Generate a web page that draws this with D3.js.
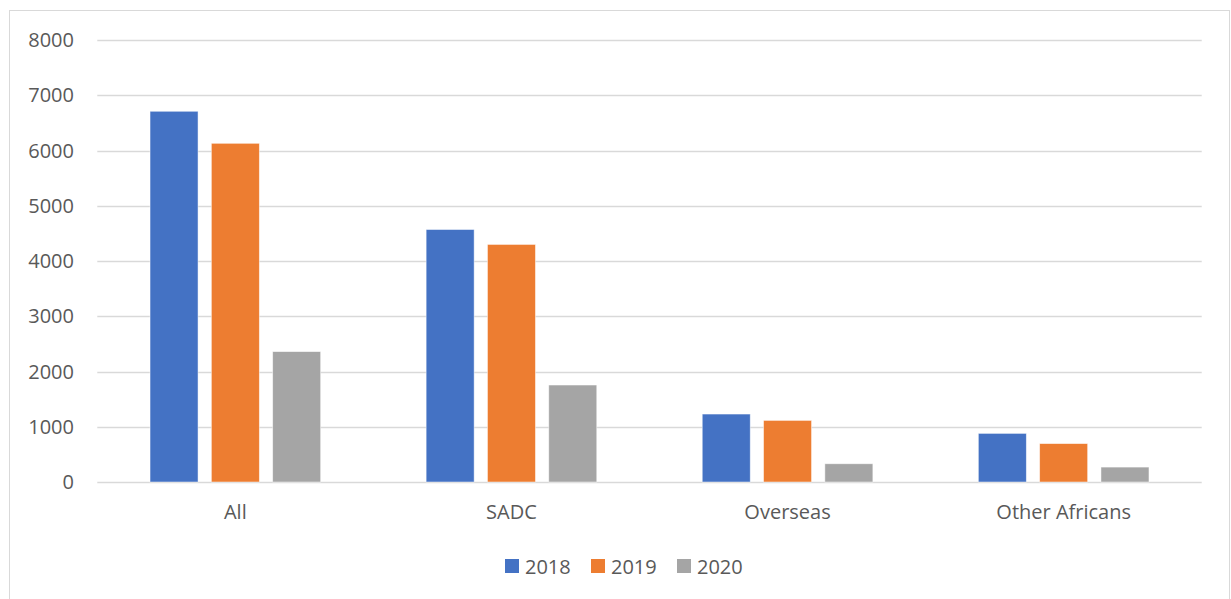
<!DOCTYPE html>
<html>
<head>
<meta charset="utf-8">
<script src="https://cdn.jsdelivr.net/npm/d3@7"></script>
<style>
  html, body { margin: 0; padding: 0; background: #fff; }
  svg { display: block; }
  text { font-family: "Open Sans", "Noto Sans", sans-serif; fill: #595959; }
</style>
</head>
<body>
<svg id="chart" width="1231" height="599"></svg>
<script>
// Groups along the x axis
const categories = ["All", "SADC", "Overseas", "Other Africans"];
// Series (one bar per category per year)
const seriesNames = ["2018", "2019", "2020"];
const values2018 = [6710, 4570, 1230, 880];
const values2019 = [6130, 4300, 1115, 695];
const values2020 = [2360, 1755, 330, 270];
const seriesValues = [values2018, values2019, values2020];
const seriesColors = ["#4472C4", "#ED7D31", "#A5A5A5"];
// Y axis ticks
const yTicks = [0, 1000, 2000, 3000, 4000, 5000, 6000, 7000, 8000];

const svg = d3.select("#chart");

// Chart frame
svg.append("rect")
  .attr("x", 9.5).attr("y", 10.5)
  .attr("width", 1220).attr("height", 600)
  .attr("fill", "#fff").attr("stroke", "#D9D9D9").attr("stroke-width", 1);

const plot = { left: 97.3, right: 1201.7, top: 40, bottom: 482 };

const y = d3.scaleLinear().domain([0, 8000]).range([plot.bottom, plot.top]);
const x0 = d3.scaleBand().domain(categories).range([plot.left, plot.right]).padding(0);
const x1 = d3.scaleBand().domain(seriesNames)
  .range([0, x0.bandwidth()])
  .paddingInner(0.217).paddingOuter(0.86);

// Horizontal gridlines
svg.append("g")
  .selectAll("line")
  .data(yTicks)
  .join("line")
  .attr("x1", plot.left).attr("x2", plot.right)
  .attr("y1", d => Math.round(y(d)) + 0.5)
  .attr("y2", d => Math.round(y(d)) + 0.5)
  .attr("stroke", "#D9D9D9").attr("stroke-width", 1.3);

// Y tick labels
svg.append("g")
  .selectAll("text")
  .data(yTicks)
  .join("text")
  .attr("x", 74)
  .attr("y", d => y(d))
  .attr("dy", "0.36em")
  .attr("text-anchor", "end")
  .attr("font-size", 20)
  .text(d => d);

// Bars
const rows = categories.map((c, i) => ({
  category: c,
  bars: seriesNames.map((s, j) => ({ series: s, value: seriesValues[j][i], color: seriesColors[j] }))
}));

svg.append("g")
  .selectAll("g")
  .data(rows)
  .join("g")
  .attr("transform", d => `translate(${x0(d.category)},0)`)
  .selectAll("rect")
  .data(d => d.bars)
  .join("rect")
  .attr("x", d => x1(d.series))
  .attr("y", d => y(d.value))
  .attr("width", x1.bandwidth())
  .attr("height", d => y(0) - y(d.value))
  .attr("fill", d => d.color)
  .attr("stroke", "#fff").attr("stroke-opacity", 0.6).attr("stroke-width", 0.8);

// Category labels
svg.append("g")
  .selectAll("text")
  .data(categories)
  .join("text")
  .attr("x", d => x0(d) + x0.bandwidth() / 2)
  .attr("y", 519)
  .attr("text-anchor", "middle")
  .attr("font-size", 20)
  .text(d => d);

// Legend
const legendX = [505, 591, 677];
const legend = svg.append("g")
  .selectAll("g")
  .data(seriesNames)
  .join("g")
  .attr("transform", (d, i) => `translate(${legendX[i]},0)`);
legend.append("rect")
  .attr("x", 0).attr("y", 559)
  .attr("width", 14).attr("height", 14)
  .attr("fill", (d, i) => seriesColors[i]);
legend.append("text")
  .attr("x", 20).attr("y", 574)
  .attr("font-size", 20)
  .text(d => d);
</script>
</body>
</html>
